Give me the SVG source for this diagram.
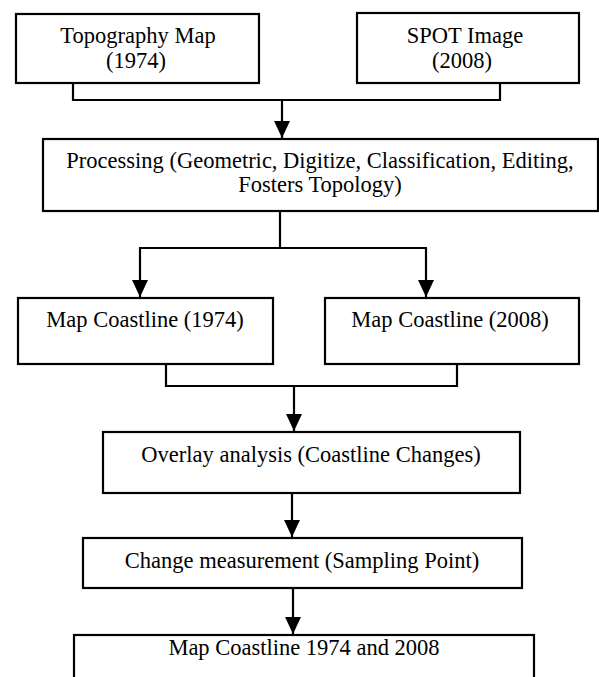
<svg xmlns="http://www.w3.org/2000/svg" width="599" height="677" viewBox="0 0 599 677">
<defs>
<marker id="ah" markerUnits="userSpaceOnUse" markerWidth="17" markerHeight="16" viewBox="0 0 17 16" refX="17" refY="8" orient="auto">
<path d="M0,0 L17,8 L0,16 Z" fill="#000"/>
</marker>
<style>
.box{fill:#fff;stroke:#000;stroke-width:2.2}
.t{font-family:"Liberation Serif","Times New Roman",serif;font-size:22.5px;fill:#000;text-anchor:middle}
.c{fill:none;stroke:#000;stroke-width:2.2}
</style>
</defs>
<rect width="599" height="677" fill="#fff"/>
<g id="topography">
<rect class="box" x="16" y="14" width="243" height="69"/>
<text class="t" x="138" y="43">Topography Map</text>
<text class="t" x="136" y="68">(1974)</text>
</g>
<g id="spot">
<rect class="box" x="357" y="13" width="222" height="70"/>
<text class="t" x="465" y="43">SPOT Image</text>
<text class="t" x="462" y="68">(2008)</text>
</g>
<g id="processing">
<rect class="box" x="43" y="139" width="555" height="72"/>
<text class="t" x="320" y="168">Processing (Geometric, Digitize, Classification, Editing,</text>
<text class="t" x="320" y="192">Fosters Topology)</text>
</g>
<g id="coast1974">
<rect class="box" x="18" y="298" width="255" height="66"/>
<text class="t" x="145" y="327">Map Coastline (1974)</text>
</g>
<g id="coast2008">
<rect class="box" x="325" y="298" width="254" height="66"/>
<text class="t" x="450" y="327">Map Coastline (2008)</text>
</g>
<g id="overlay">
<rect class="box" x="103" y="432" width="417" height="61"/>
<text class="t" x="311" y="462">Overlay analysis (Coastline Changes)</text>
</g>
<g id="change">
<rect class="box" x="83" y="538" width="439" height="50"/>
<text class="t" x="302" y="568">Change measurement (Sampling Point)</text>
</g>
<g id="final">
<rect class="box" x="74" y="635" width="460" height="60"/>
<text class="t" x="304" y="655">Map Coastline 1974 and 2008</text>
</g>
<g id="connectors">
<polyline class="c" points="73,83 73,100 500,100 500,83"/>
<line class="c" x1="282" y1="100" x2="282" y2="138" marker-end="url(#ah)"/>
<line class="c" x1="280" y1="211" x2="280" y2="248"/>
<line class="c" x1="139" y1="248" x2="427" y2="248"/>
<line class="c" x1="140" y1="248" x2="140" y2="297" marker-end="url(#ah)"/>
<line class="c" x1="426" y1="248" x2="426" y2="297" marker-end="url(#ah)"/>
<polyline class="c" points="166,364 166,386 457,386 457,364"/>
<line class="c" x1="294" y1="386" x2="294" y2="431" marker-end="url(#ah)"/>
<line class="c" x1="292" y1="493" x2="292" y2="537" marker-end="url(#ah)"/>
<line class="c" x1="293" y1="588" x2="293" y2="634" marker-end="url(#ah)"/>
</g>
</svg>
